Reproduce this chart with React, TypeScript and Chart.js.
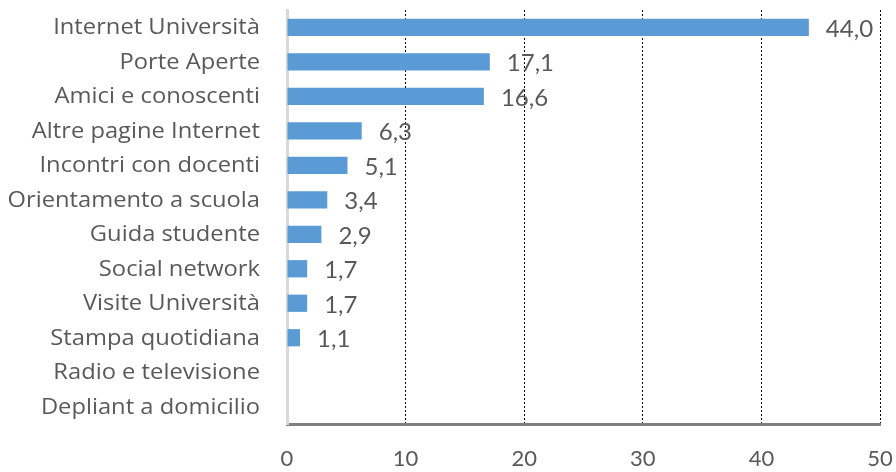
import React, { useEffect, useRef } from "react";
import { Chart, registerables } from "chart.js";

Chart.register(...registerables);

const categories = [
  "Internet Università",
  "Porte Aperte",
  "Amici e conoscenti",
  "Altre pagine Internet",
  "Incontri con docenti",
  "Orientamento a scuola",
  "Guida studente",
  "Social network",
  "Visite Università",
  "Stampa quotidiana",
  "Radio e televisione",
  "Depliant a domicilio",
];

const values: (number | null)[] = [44.0, 17.1, 16.6, 6.3, 5.1, 3.4, 2.9, 1.7, 1.7, 1.1, null, null];

const xTicks = [0, 10, 20, 30, 40, 50];

const FONT = "Lato, 'Open Sans', sans-serif";
const CAT_FONT = "'Open Sans', Lato, sans-serif";
const TEXT = "#595959";

const labelPlugin = {
  id: "valueLabels",
  afterDraw(chart: any) {
    const ctx = chart.ctx;
    const meta = chart.getDatasetMeta(0);
    const yScale = chart.scales.y;
    ctx.save();
    // value labels
    ctx.font = `24px ${FONT}`;
    ctx.fillStyle = TEXT;
    ctx.textAlign = "left";
    ctx.textBaseline = "middle";
    meta.data.forEach((bar: any, i: number) => {
      const v = values[i];
      if (v == null) return;
      const txt = v.toFixed(1).replace(".", ",");
      ctx.fillText(txt, bar.x + 17, bar.y + 2);
    });
    // category labels (wide lettering as in the reference)
    ctx.font = `21px ${CAT_FONT}`;
    ctx.textAlign = "right";
    const rightX = yScale.right - 27;
    categories.forEach((c, i) => {
      const y = yScale.getPixelForValue(i) + 1;
      ctx.save();
      ctx.translate(rightX, y);
      ctx.scale(1.13, 1);
      ctx.fillText(c, 0, 0);
      ctx.restore();
    });
    ctx.restore();
  },
};

export default function App() {
  const ref = useRef<HTMLCanvasElement | null>(null);

  useEffect(() => {
    if (!ref.current) return;
    const chart = new Chart(ref.current, {
      type: "bar",
      data: {
        labels: categories,
        datasets: [
          {
            data: values as any,
            backgroundColor: "#5B9BD5",
            borderWidth: 0,
            categoryPercentage: 1,
            barPercentage: 0.5,
          },
        ],
      },
      options: {
        indexAxis: "y",
        animation: false,
        responsive: false,
        maintainAspectRatio: false,
        layout: { padding: { top: 10, right: 16, left: 0, bottom: 0 } },
        plugins: {
          legend: { display: false },
          tooltip: { enabled: false },
        },
        scales: {
          x: {
            min: 0,
            max: 50,
            afterBuildTicks: (scale: any) => {
              scale.ticks = xTicks.map((v) => ({ value: v }));
            },
            afterFit: (scale: any) => {
              scale.height = 48;
              scale.paddingLeft = 0;
              scale.paddingRight = 0;
              scale.paddingTop = 0;
              scale.paddingBottom = 0;
            },
            grid: {
              drawTicks: false,
              color: (c: any) => (c.tick && c.tick.value === 0 ? "rgba(0,0,0,0)" : "#000000"),
              lineWidth: 1,
            },
            border: { display: true, color: "#7f7f7f", width: 3, dash: [2, 2] },
            ticks: {
              color: TEXT,
              font: { family: FONT, size: 22 },
              padding: 22,
              maxRotation: 0,
            },
          },
          y: {
            afterFit: (scale: any) => {
              scale.width = 287;
              scale.paddingLeft = 0;
              scale.paddingRight = 0;
              scale.paddingTop = 0;
              scale.paddingBottom = 0;
            },
            grid: { display: false, drawTicks: false },
            border: { display: true, color: "#d9d9d9", width: 3 },
            ticks: { display: false, autoSkip: false },
          },
        },
      },
      plugins: [labelPlugin],
    });
    return () => chart.destroy();
  }, []);

  return (
    <div style={{ position: "fixed", left: 0, top: 0, width: 896, height: 472, background: "#fff" }}>
      <canvas ref={ref} width={896} height={472} style={{ width: 896, height: 472 }} />
    </div>
  );
}
